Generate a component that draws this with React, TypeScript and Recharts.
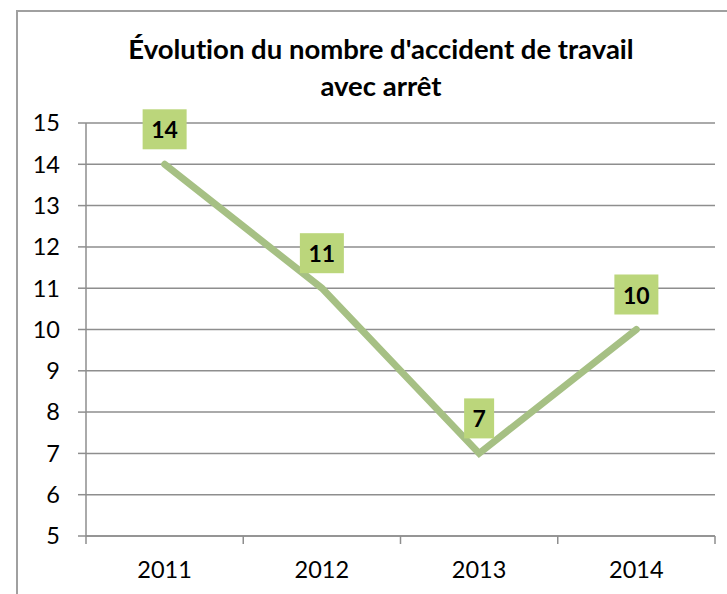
import React from "react";
import { LineChart, Line, XAxis, YAxis, CartesianGrid, LabelList } from "recharts";

const years = ["2011", "2012", "2013", "2014"];
const accidents = [14, 11, 7, 10];
const yTicks = [5, 6, 7, 8, 9, 10, 11, 12, 13, 14, 15];

const titleLines = ["Évolution du nombre d'accident de travail", "avec arrêt"];

const FONT = "Lato, 'Open Sans', sans-serif";
const GRID = "#8e8e8e";
const LINE = "#a6c084";
const BOX = "#bbd67b";

const W = 727;
const H = 594;
const PLOT_LEFT = 86;
const PLOT_RIGHT = 12;
const BAND = (W - PLOT_LEFT - PLOT_RIGHT) / years.length;

const data = years.map((year, i) => ({ year, accidents: accidents[i] }));

function YearTick(props: any) {
  const { x, y, payload, index } = props;
  return (
    <g>
      <line x1={x - BAND / 2} y1={y} x2={x - BAND / 2} y2={y + 8} stroke={GRID} strokeWidth={1.5} />
      {index === years.length - 1 && (
        <line x1={x + BAND / 2} y1={y} x2={x + BAND / 2} y2={y + 8} stroke={GRID} strokeWidth={1.5} />
      )}
      <text x={x} y={y + 42} textAnchor="middle" fontSize={23.5} fontFamily={FONT} fill="#000">
        {payload.value}
      </text>
    </g>
  );
}

function ValueBox(props: any) {
  const { x, y, value } = props;
  const w = String(value).length > 1 ? 44 : 30;
  const h = 40;
  const bottom = y - 15;
  return (
    <g>
      <rect x={x - w / 2} y={bottom - h} width={w} height={h} fill={BOX} />
      <text
        x={x}
        y={bottom - h / 2}
        textAnchor="middle"
        dominantBaseline="central"
        fontSize={23}
        fontWeight={700}
        fontFamily={FONT}
        fill="#000"
      >
        {value}
      </text>
    </g>
  );
}

export default function App() {
  return (
    <div style={{ position: "absolute", left: 0, top: 0, width: W, height: H, background: "#fff", overflow: "hidden" }}>
      <div
        style={{
          position: "absolute",
          left: 16,
          top: 10,
          width: W,
          height: H,
          border: "2px solid #a0a0a0",
        }}
      />
      <div
        style={{
          position: "absolute",
          left: 0,
          top: 30,
          width: 762,
          textAlign: "center",
          fontFamily: FONT,
          fontWeight: 700,
          fontSize: 27.5,
          lineHeight: "37px",
          color: "#000",
          fontVariantLigatures: "none",
        }}
      >
        {titleLines.map((t) => (
          <div key={t}>{t}</div>
        ))}
      </div>
      <div style={{ position: "absolute", left: 0, top: 0 }}>
        <LineChart width={W} height={H} data={data} margin={{ top: 123, right: PLOT_RIGHT, left: 0, bottom: 0 }}>
          <CartesianGrid vertical={false} stroke={GRID} strokeWidth={1.5} />
          <XAxis
            dataKey="year"
            height={58}
            padding={{ left: BAND / 2, right: BAND / 2 }}
            axisLine={{ stroke: GRID, strokeWidth: 1.5 }}
            tickLine={false}
            tickSize={0}
            tickMargin={0}
            tick={<YearTick />}
            interval={0}
          />
          <YAxis
            width={PLOT_LEFT}
            domain={[5, 15]}
            ticks={yTicks}
            interval={0}
            tickSize={8}
            tickMargin={18}
            axisLine={{ stroke: GRID, strokeWidth: 1.5 }}
            tickLine={{ stroke: GRID, strokeWidth: 1.5 }}
            tick={{ fill: "#000", fontSize: 23.5, fontFamily: FONT }}
          />
          <Line
            type="linear"
            dataKey="accidents"
            stroke={LINE}
            strokeWidth={7}
            strokeLinecap="round"
            dot={false}
            activeDot={false}
            isAnimationActive={false}
          >
            <LabelList dataKey="accidents" content={<ValueBox />} />
          </Line>
        </LineChart>
      </div>
    </div>
  );
}
